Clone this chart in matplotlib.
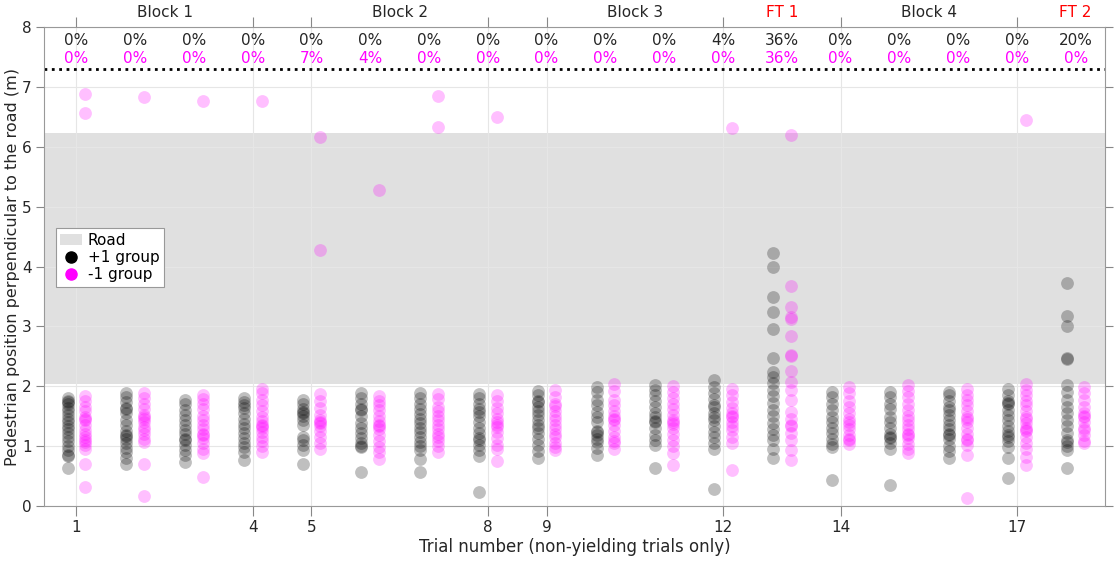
import matplotlib.pyplot as plt
import numpy as np
from matplotlib.patches import Patch
from matplotlib.lines import Line2D

# Trial numbers (non-yielding trials only)
trials = list(range(1, 19))

# Pedestrian positions, +1 group (black) per trial
plus1_group = [
    [1.80, 1.76, 1.74, 1.70, 1.64, 1.58, 1.52, 1.46, 1.40, 1.34, 1.28, 1.22, 1.15, 1.08, 1.00, 0.94, 0.86, 0.83, 0.63],
    [1.88, 1.82, 1.74, 1.64, 1.62, 1.55, 1.43, 1.35, 1.26, 1.19, 1.17, 1.12, 1.05, 0.97, 0.90, 0.80, 0.71],
    [1.77, 1.70, 1.60, 1.52, 1.44, 1.35, 1.27, 1.20, 1.12, 1.10, 1.02, 0.93, 0.85, 0.74],
    [1.80, 1.74, 1.68, 1.63, 1.55, 1.45, 1.37, 1.30, 1.22, 1.14, 1.06, 0.99, 0.90, 0.77],
    [1.77, 1.70, 1.62, 1.57, 1.55, 1.50, 1.43, 1.36, 1.15, 1.10, 1.02, 0.93, 0.70],
    [1.88, 1.80, 1.70, 1.62, 1.60, 1.50, 1.38, 1.30, 1.22, 1.14, 1.06, 1.00, 0.98, 0.57],
    [1.88, 1.80, 1.71, 1.62, 1.54, 1.46, 1.38, 1.30, 1.24, 1.16, 1.07, 1.00, 0.93, 0.78, 0.57],
    [1.87, 1.80, 1.70, 1.62, 1.57, 1.50, 1.40, 1.30, 1.22, 1.14, 1.10, 1.02, 0.94, 0.83, 0.24],
    [1.92, 1.85, 1.76, 1.74, 1.66, 1.58, 1.52, 1.44, 1.36, 1.30, 1.22, 1.12, 1.02, 0.92, 0.80],
    [1.99, 1.90, 1.77, 1.68, 1.57, 1.48, 1.40, 1.26, 1.24, 1.18, 1.12, 1.07, 0.97, 0.85],
    [2.02, 1.94, 1.85, 1.76, 1.66, 1.56, 1.48, 1.42, 1.40, 1.30, 1.18, 1.10, 1.02, 0.63],
    [2.10, 1.98, 1.88, 1.78, 1.68, 1.65, 1.56, 1.48, 1.43, 1.34, 1.24, 1.16, 1.06, 0.96, 0.28],
    [4.22, 4.00, 3.50, 3.24, 2.95, 2.47, 2.24, 2.15, 2.05, 1.94, 1.83, 1.72, 1.60, 1.50, 1.38, 1.28, 1.18, 1.10, 0.96, 0.81],
    [1.91, 1.82, 1.71, 1.60, 1.49, 1.40, 1.30, 1.22, 1.12, 1.04, 0.99, 0.43],
    [1.91, 1.82, 1.71, 1.62, 1.49, 1.40, 1.30, 1.20, 1.16, 1.14, 1.05, 0.96, 0.35],
    [1.91, 1.86, 1.76, 1.66, 1.60, 1.52, 1.44, 1.36, 1.28, 1.21, 1.19, 1.12, 1.00, 0.92, 0.80],
    [1.96, 1.86, 1.76, 1.72, 1.70, 1.60, 1.52, 1.43, 1.34, 1.26, 1.18, 1.16, 1.08, 0.99, 0.80, 0.46],
    [3.72, 3.17, 3.00, 2.47, 2.46, 2.02, 1.90, 1.77, 1.66, 1.55, 1.44, 1.33, 1.22, 1.10, 1.07, 1.00, 0.93, 0.63],
]

# Pedestrian positions, -1 group (magenta) per trial
minus1_group = [
    [1.84, 1.76, 1.66, 1.58, 1.48, 1.45, 1.44, 1.36, 1.27, 1.20, 1.16, 1.10, 1.07, 1.02, 0.96, 0.71, 0.31, 6.56, 6.88],
    [1.88, 1.80, 1.71, 1.62, 1.52, 1.49, 1.46, 1.40, 1.32, 1.27, 1.20, 1.12, 1.07, 0.71, 0.17, 6.84],
    [1.85, 1.78, 1.71, 1.62, 1.50, 1.43, 1.36, 1.28, 1.20, 1.18, 1.14, 1.05, 0.96, 0.88, 0.49, 6.76],
    [1.96, 1.88, 1.77, 1.68, 1.58, 1.49, 1.42, 1.36, 1.33, 1.30, 1.24, 1.16, 1.08, 1.00, 0.90, 6.76],
    [1.87, 1.75, 1.63, 1.52, 1.44, 1.40, 1.38, 1.34, 1.26, 1.16, 1.05, 0.95, 4.27, 6.16],
    [1.84, 1.76, 1.68, 1.60, 1.50, 1.42, 1.36, 1.34, 1.28, 1.18, 1.08, 0.99, 0.90, 0.78, 5.28],
    [1.87, 1.78, 1.66, 1.58, 1.50, 1.43, 1.36, 1.28, 1.20, 1.16, 1.08, 1.00, 0.90, 6.34, 6.85],
    [1.85, 1.75, 1.63, 1.55, 1.46, 1.40, 1.35, 1.32, 1.24, 1.14, 1.02, 0.95, 0.76, 6.50],
    [1.93, 1.82, 1.70, 1.67, 1.58, 1.50, 1.43, 1.36, 1.28, 1.20, 1.16, 1.06, 0.98, 0.93],
    [2.04, 1.92, 1.77, 1.68, 1.58, 1.50, 1.46, 1.44, 1.36, 1.26, 1.16, 1.09, 1.06, 0.96],
    [2.00, 1.90, 1.80, 1.71, 1.62, 1.52, 1.44, 1.40, 1.37, 1.30, 1.20, 1.10, 1.00, 0.88, 0.68],
    [1.96, 1.85, 1.74, 1.64, 1.56, 1.50, 1.48, 1.40, 1.34, 1.27, 1.16, 1.05, 0.60, 6.32],
    [6.20, 3.67, 3.32, 3.15, 3.12, 2.84, 2.53, 2.51, 2.25, 2.08, 1.94, 1.77, 1.57, 1.45, 1.36, 1.34, 1.22, 1.10, 0.93, 0.77],
    [1.99, 1.88, 1.76, 1.66, 1.56, 1.45, 1.41, 1.36, 1.28, 1.18, 1.12, 1.10, 1.04],
    [2.02, 1.92, 1.82, 1.71, 1.60, 1.50, 1.43, 1.36, 1.28, 1.20, 1.18, 1.14, 1.04, 0.96, 0.88],
    [1.96, 1.86, 1.77, 1.68, 1.58, 1.48, 1.46, 1.40, 1.30, 1.20, 1.12, 1.10, 1.02, 0.85, 0.13],
    [2.04, 1.94, 1.85, 1.76, 1.68, 1.58, 1.48, 1.46, 1.38, 1.30, 1.27, 1.25, 1.16, 1.06, 0.96, 0.82, 0.68, 6.45],
    [1.99, 1.88, 1.77, 1.66, 1.56, 1.50, 1.48, 1.40, 1.30, 1.27, 1.18, 1.08, 1.06],
]

# Percentage of trials where pedestrian crossed (per group)
pct_plus1 = [0, 0, 0, 0, 0, 0, 0, 0, 0, 0, 0, 4, 36, 0, 0, 0, 0, 20]
pct_minus1 = [0, 0, 0, 0, 7, 4, 0, 0, 0, 0, 0, 0, 36, 0, 0, 0, 0, 0]

# Block labels and their positions along the trial axis
block_labels = ['Block 1', 'Block 2', 'Block 3', 'FT 1', 'Block 4', 'FT 2']
block_pos = [2.5, 6.5, 10.5, 13, 15.5, 18]
block_colors = ['#262626', '#262626', '#262626', 'red', '#262626', 'red']

tick_trials = [1, 4, 5, 8, 9, 12, 14, 17]

road_low, road_high = 2.04, 6.23
curb_line = 7.3

fig = plt.figure(figsize=(11.18, 5.66), dpi=100)
ax = fig.add_axes([0.0394, 0.106, 0.9490, 0.846])

# road shading
ax.axhspan(road_low, road_high, color='#e0e0e0', zorder=0.1, lw=0)

for i, t in enumerate(trials):
    yb = plus1_group[i]
    ym = minus1_group[i]
    ax.scatter(np.full(len(yb), t - 0.15), yb, s=85, color='black', alpha=0.25, lw=0, zorder=3)
    ax.scatter(np.full(len(ym), t + 0.15), ym, s=85, color='magenta', alpha=0.25, lw=0, zorder=3)
    ax.text(t, 7.78, f'{pct_plus1[i]}%', ha='center', va='center', fontsize=11, color='#262626')
    ax.text(t, 7.48, f'{pct_minus1[i]}%', ha='center', va='center', fontsize=11, color='magenta')

ax.axhline(curb_line, color='black', linestyle=':', lw=2, zorder=2)

for lab, xp, c in zip(block_labels, block_pos, block_colors):
    ax.text(xp, 8.25, lab, ha='center', va='center', fontsize=11, color=c, clip_on=False)

ax.set_xlim(0.45, 18.5)
ax.set_ylim(0, 8)
ax.set_xticks(tick_trials)
ax.set_yticks(range(0, 9))
ax.tick_params(axis='both', direction='out', top=True, right=True, length=7, pad=3,
               color='#888888', labelsize=11, labelcolor='#262626')
ax.tick_params(axis='y', length=6)
for sp in ax.spines.values():
    sp.set_color('#999999')
ax.grid(True, color='#e6e6e6', lw=0.8)
ax.set_axisbelow(True)

ax.set_xlabel('Trial number (non-yielding trials only)', fontsize=12, color='#262626', labelpad=2)
ax.set_ylabel('Pedestrian position perpendicular to the road (m)', fontsize=11.5, color='#262626', labelpad=1)

handles = [Patch(facecolor='#e0e0e0', edgecolor='none', label='Road'),
           Line2D([], [], marker='o', ls='', color='black', markersize=8, label='+1 group'),
           Line2D([], [], marker='o', ls='', color='magenta', markersize=8, label='-1 group')]
leg = ax.legend(handles=handles, loc='upper left', bbox_to_anchor=(0.011, 0.58), fontsize=11,
                fancybox=False, framealpha=1, edgecolor='#999999', handlelength=1.4,
                handletextpad=0.4, labelspacing=0.15, borderpad=0.3, borderaxespad=0)
leg.get_frame().set_linewidth(0.8)

fig.savefig('out.png', dpi=100)
